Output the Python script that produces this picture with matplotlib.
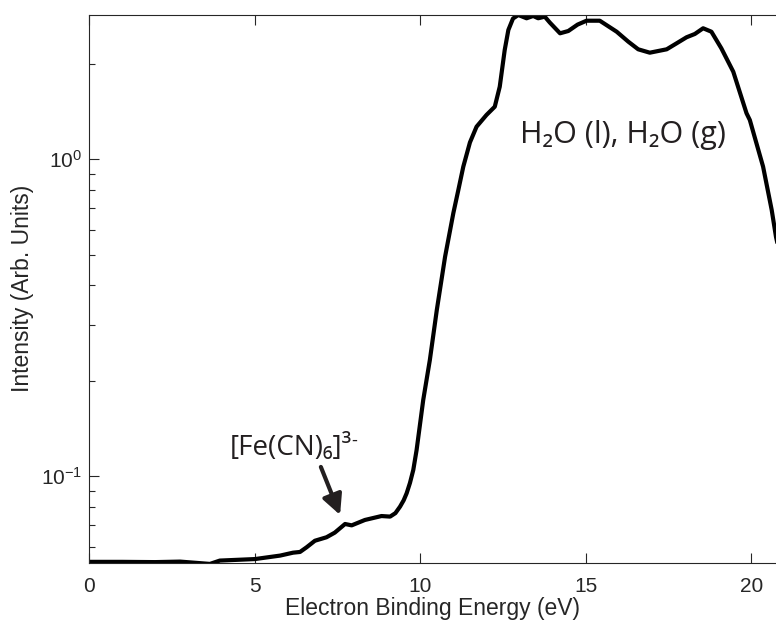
import numpy as np
import matplotlib
matplotlib.use("Agg")
import matplotlib.pyplot as plt
from matplotlib.ticker import LogLocator, NullFormatter, FixedLocator

plt.rcParams['font.family'] = ['Liberation Sans', 'DejaVu Sans']
plt.rcParams['mathtext.fontset'] = 'custom'
plt.rcParams['mathtext.rm'] = 'Liberation Sans'
plt.rcParams['mathtext.it'] = 'Liberation Sans:italic'

# photoelectron spectrum, read point by point
energy = [0.0, 1.0, 2.0, 2.75, 3.65, 3.95, 5.01, 5.77, 6.16, 6.37, 6.57, 6.82,
          7.17, 7.42, 7.73, 7.93, 8.33, 8.83, 9.09, 9.25, 9.39, 9.50, 9.59,
          9.69, 9.79, 9.89, 10.09, 10.29, 10.50, 10.75, 11.0, 11.15, 11.30,
          11.50, 11.70, 12.0, 12.25, 12.40, 12.55, 12.66, 12.80, 12.96, 13.21,
          13.41, 13.56, 13.76, 13.91, 14.22, 14.47, 14.75, 15.02, 15.42,
          15.93, 16.28, 16.58, 16.93, 17.44, 17.74, 18.04, 18.29, 18.54,
          18.79, 19.09, 19.45, 19.85, 19.95, 20.35, 20.61, 20.74, 20.86]
intensity = [0.0537, 0.0537, 0.0536, 0.0538, 0.0529, 0.0542, 0.0548, 0.0562,
             0.0574, 0.0577, 0.0597, 0.0626, 0.0642, 0.0664, 0.0707, 0.0700,
             0.0728, 0.0749, 0.0746, 0.0765, 0.0802, 0.0840, 0.0884, 0.0953,
             0.1047, 0.121, 0.174, 0.2327, 0.3346, 0.4929, 0.677, 0.800,
             0.948, 1.130, 1.267, 1.380, 1.465, 1.694, 2.212, 2.558, 2.780,
             2.852, 2.785, 2.832, 2.785, 2.818, 2.701, 2.497, 2.539, 2.660,
             2.736, 2.736, 2.526, 2.350, 2.223, 2.169, 2.223, 2.322, 2.426,
             2.485, 2.590, 2.526, 2.239, 1.889, 1.397, 1.330, 0.948, 0.692,
             0.569, 0.50]

xticks = [0, 5, 10, 15, 20]
yticks = [0.1, 1.0]
ytick_labels = ['$10^{-1}$', '$10^{0}$']

axcol = '#262626'
inkcol = '#231f20'

fig = plt.figure(figsize=(7.76, 6.29), dpi=100)
ax = fig.add_axes([89 / 776, 66.3 / 629, 1 - 89 / 776, 547.7 / 629])

ax.plot(energy, intensity, color='black', lw=3, solid_joinstyle='round')

ax.set_yscale('log')
ax.set_xlim(0, 20.74)
ax.set_ylim(0.05337, 2.852)

ax.set_xticks(xticks)
ax.yaxis.set_major_locator(FixedLocator(yticks))
ax.set_yticklabels(ytick_labels)
ax.yaxis.set_minor_locator(LogLocator(base=10, subs=np.arange(2, 10)))
ax.yaxis.set_minor_formatter(NullFormatter())

ax.tick_params(which='both', direction='in', top=True, right=False,
               color=axcol, labelcolor=axcol, labelsize=15, width=0.8)
ax.tick_params(which='major', length=7)
ax.tick_params(which='minor', length=4)
ax.tick_params(axis='x', which='major', pad=10)
ax.tick_params(axis='y', which='major', pad=5)
for side in ['left', 'bottom', 'top']:
    ax.spines[side].set_color(axcol)
    ax.spines[side].set_linewidth(0.8)
ax.spines['right'].set_visible(False)

ax.set_xlabel('Electron Binding Energy (eV)', fontsize=16.5, color=axcol, labelpad=1)
ax.set_ylabel('Intensity (Arb. Units)', fontsize=16.5, color=axcol, labelpad=5)

anno_font = ['Open Sans', 'DejaVu Sans']
ax.text(16.13, 1.126, 'H₂O (l), H₂O (g)', fontsize=22, family=anno_font,
        color=inkcol, ha='center', va='baseline')
fe = ax.text(6.10, 0.1168, '[Fe(CN)₆]³', fontsize=20, family=anno_font,
             color=inkcol, ha='center', va='baseline')
# short superscript minus after the charge
ax.annotate('-', xy=(1, 1), xycoords=fe, xytext=(-0.5, -5),
            textcoords='offset points', fontsize=13, family=anno_font,
            color=inkcol, ha='left', va='center')
ax.annotate('', xy=(7.58, 0.0755), xytext=(7.0, 0.107),
            arrowprops=dict(arrowstyle='-|>', lw=3, color=inkcol,
                            mutation_scale=30, shrinkA=0, shrinkB=0))

fig.savefig('out.png', dpi=100)
